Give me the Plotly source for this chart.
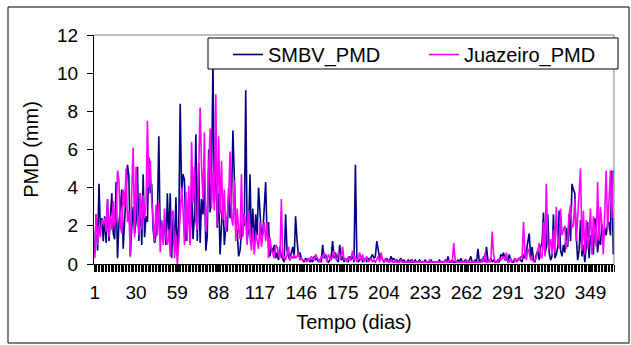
import plotly.graph_objects as go

days = list(range(1, 366))
tick_days = [1, 30, 59, 88, 117, 146, 175, 204, 233, 262, 291, 320, 349]
tick_labels = [str(d) for d in tick_days]

smbv_pmd = [
    0.5, 2.6, 0.7, 4.2, 1.8, 2.4, 1.2, 2.5, 1.1, 3.4,
    1.2, 2.6, 3.7, 1.6, 1.3, 4.3, 0.3, 2.1, 3.1, 3.9,
    0.8, 2.4, 4.1, 5.2, 4.6, 0.4, 1.9, 3.0, 1.6, 2.2,
    5.1, 1.2, 3.7, 1.0, 4.7, 1.4, 2.5, 2.2, 5.6, 3.7,
    4.2, 1.8, 1.1, 1.5, 2.6, 6.7, 1.3, 2.2, 1.8, 2.0,
    1.0, 3.7, 1.3, 3.7, 0.3, 2.4, 0.9, 3.5, 0.6, 2.0,
    8.4, 3.7, 4.7, 4.4, 1.2, 2.0, 3.5, 1.1, 4.0, 1.3,
    2.5, 6.8, 1.2, 5.3, 1.1, 3.4, 2.6, 4.5, 0.7, 1.5,
    6.0, 2.7, 4.4, 10.6, 3.2, 6.1, 1.9, 3.7, 0.5, 2.4,
    3.5, 1.0, 2.0, 1.7, 4.0, 2.4, 3.2, 7.0, 4.6, 2.1,
    1.7, 0.4, 0.7, 1.8, 2.6, 2.0, 9.1, 1.3, 1.8, 4.7,
    1.2, 2.9, 0.8, 2.6, 1.5, 4.0, 3.0, 1.5, 1.6, 2.8,
    4.3, 1.4, 2.2, 0.4, 0.9, 0.6, 1.0, 0.3, 0.6, 0.2,
    0.9, 0.4, 0.2, 0.1, 2.6, 0.7, 0.4, 0.2, 0.6, 0.9,
    0.3, 2.5, 1.3, 0.4, 0.6, 0.3, 0.2, 0.1, 0.3, 0.2,
    0.3, 0.1, 0.2, 0.1, 0.4, 0.2, 0.3, 0.1, 0.2, 0.1,
    1.0, 0.3, 0.5, 0.2, 0.1, 0.2, 0.4, 1.2, 0.3, 0.6,
    0.2, 0.1, 1.0, 0.2, 0.4, 0.1, 0.3, 0.2, 0.1, 0.4,
    0.2, 0.5, 0.1, 5.2, 0.3, 0.1, 0.2, 0.4, 0.1, 0.2,
    0.3, 0.1, 0.3, 0.2, 0.4, 0.5, 0.3, 0.4, 1.2, 0.6,
    0.3, 0.4, 0.2, 0.1, 0.2, 0.3, 0.1, 0.2, 0.4, 0.2,
    0.3, 0.1, 0.2, 0.1, 0.2, 0.3, 0.1, 0.2, 0.1, 0.1,
    0.2, 0.1, 0.2, 0.1, 0.1, 0.2, 0.1, 0.1, 0.2, 0.1,
    0.1, 0.1, 0.2, 0.1, 0.1, 0.1, 0.2, 0.1, 0.1, 0.1,
    0.1, 0.1, 0.2, 0.1, 0.1, 0.1, 0.2, 0.1, 0.4, 0.1,
    0.1, 0.2, 0.1, 0.1, 0.1, 0.2, 0.1, 0.3, 0.1, 0.1,
    0.2, 0.1, 0.1, 0.2, 0.4, 0.1, 0.1, 0.2, 0.1, 0.8,
    0.1, 0.2, 0.1, 0.4, 0.1, 0.9, 0.2, 0.1, 0.3, 0.1,
    0.2, 0.1, 0.1, 0.2, 0.1, 0.5, 0.4, 0.6, 0.2, 0.3,
    0.1, 0.5, 0.2, 0.1, 0.1, 0.3, 0.1, 0.2, 0.3, 0.2,
    0.1, 0.5, 0.3, 0.7, 1.1, 1.6, 0.3, 0.9, 0.2, 0.1,
    0.5, 0.7, 0.2, 0.9, 1.1, 2.7, 0.5, 0.9, 2.6, 0.6,
    0.2, 0.4, 2.6, 0.3, 0.5, 0.9, 2.8, 0.7, 0.4, 1.0,
    0.6, 1.9, 0.9, 2.6, 1.2, 4.2, 3.9, 3.7, 1.5, 0.2,
    0.7, 2.3, 0.4, 1.0, 0.1, 0.9, 2.2, 0.3, 1.5, 1.4,
    0.5, 2.4, 2.0, 0.6, 1.4, 1.0, 2.1, 1.3, 1.9, 1.5,
    2.1, 2.2, 1.5, 4.9, 0.5,
]

juazeiro_pmd = [
    0.3, 2.6, 1.0, 2.0, 1.4, 2.3, 2.1, 2.4, 1.7, 3.4,
    1.4, 2.5, 1.8, 3.3, 2.0, 2.3, 4.9, 4.4, 2.0, 1.6,
    3.9, 3.0, 5.0, 2.2, 2.8, 0.4, 3.8, 6.1, 1.4, 5.1,
    2.7, 1.5, 3.7, 1.8, 3.6, 2.4, 3.0, 7.5, 4.0, 5.4,
    3.3, 2.2, 1.2, 3.1, 1.5, 3.2, 0.6, 2.3, 1.0, 2.9,
    1.4, 1.0, 1.8, 0.4, 2.6, 2.8, 0.3, 1.5, 0.0, 1.1,
    2.6, 4.0, 2.9, 1.0, 3.8, 1.2, 4.1, 1.0, 6.4, 3.2,
    5.1, 2.2, 1.8, 5.9, 8.2, 5.0, 3.4, 6.9, 1.7, 2.7,
    5.3, 7.1, 2.9, 4.8, 2.8, 8.9, 2.0, 6.7, 2.6, 5.4,
    2.3, 3.9, 1.7, 2.7, 3.5, 5.9, 2.4, 2.0, 4.4, 1.2,
    2.9, 1.8, 1.3, 4.7, 1.4, 2.6, 2.2, 1.0, 2.8, 1.4,
    0.7, 1.9, 0.5, 1.6, 1.2, 0.8, 2.2, 0.9, 1.5, 2.2,
    1.2, 2.2, 0.3, 1.4, 0.8, 0.6, 0.3, 1.0, 0.9, 0.5,
    0.3, 3.4, 0.3, 0.4, 0.2, 0.5, 0.9, 0.2, 0.4, 0.3,
    0.5, 0.3, 0.4, 0.6, 0.2, 0.3, 0.2, 0.2, 0.2, 0.1,
    0.3, 0.2, 0.4, 0.3, 0.2, 0.5, 0.3, 0.2, 0.1, 0.4,
    0.3, 0.6, 0.4, 0.1, 0.5, 0.3, 0.2, 0.4, 0.7, 0.3,
    0.2, 0.6, 0.5, 0.3, 0.9, 0.2, 0.3, 0.1, 0.4, 0.2,
    0.3, 0.7, 0.2, 0.4, 0.1, 0.3, 0.6, 0.2, 0.5, 0.1,
    0.3, 0.4, 0.1, 0.2, 0.3, 0.1, 0.2, 0.1, 0.3, 0.4,
    0.1, 0.6, 0.2, 0.1, 0.3, 0.1, 0.2, 0.1, 0.2, 0.1,
    0.1, 0.2, 0.1, 0.1, 0.1, 0.2, 0.1, 0.1, 0.1, 0.1,
    0.1, 0.1, 0.1, 0.2, 0.1, 0.1, 0.1, 0.1, 0.1, 0.1,
    0.1, 0.1, 0.1, 0.1, 0.1, 0.2, 0.1, 0.1, 0.1, 0.1,
    0.1, 0.1, 0.1, 0.1, 0.1, 0.1, 0.2, 0.1, 0.1, 0.2,
    0.1, 0.1, 1.1, 0.2, 0.1, 0.1, 0.1, 0.1, 0.1, 0.1,
    0.1, 0.2, 0.1, 0.1, 0.1, 0.1, 0.1, 0.1, 0.1, 0.1,
    0.1, 0.1, 0.3, 0.1, 0.6, 0.1, 0.1, 0.2, 0.1, 1.7,
    0.5, 0.1, 0.1, 0.1, 0.3, 0.2, 0.3, 0.4, 0.2, 0.6,
    0.1, 0.1, 0.3, 0.1, 0.2, 0.3, 0.1, 0.3, 0.2, 0.4,
    0.3, 2.2, 0.5, 0.2, 0.8, 0.6, 0.2, 0.3, 0.1, 0.2,
    0.3, 0.7, 1.1, 0.4, 0.3, 2.2, 0.4, 4.2, 1.0, 0.8,
    1.3, 0.5, 1.8, 0.6, 3.0, 1.2, 0.8, 2.9, 1.5, 1.8,
    2.0, 0.8, 1.2, 2.6, 3.1, 1.9, 2.0, 3.4, 1.2, 2.4,
    3.5, 5.0, 0.7, 2.8, 0.5, 2.3, 0.8, 1.5, 2.9, 0.5,
    2.5, 1.8, 0.9, 4.3, 1.2, 3.0, 2.1, 0.5, 2.3, 4.9,
    1.8, 3.4, 4.9, 2.4, 4.9,
]

FONT = "Liberation Sans, Arial, sans-serif"

fig = go.Figure()
fig.add_trace(go.Scatter(x=days, y=smbv_pmd, mode="lines", name="SMBV_PMD",
                         line=dict(color="#000080", width=1.6)))
fig.add_trace(go.Scatter(x=days, y=juazeiro_pmd, mode="lines", name="Juazeiro_PMD",
                         line=dict(color="#FF00FF", width=1.6)))

L, R, T, B = 94, 17, 35, 81
W, H = 631, 345
pw, ph = W - L - R, H - T - B

def px_x(p):
    return (p - L) / pw

def px_y(p):
    return (H - B - p) / ph

fig.update_layout(
    template="none",
    width=W, height=H,
    margin=dict(l=L, r=R, t=T, b=B, pad=0, autoexpand=False),
    paper_bgcolor="white", plot_bgcolor="white",
    font=dict(family=FONT, size=19, color="black"),
    showlegend=True,
    legend=dict(orientation="h", x=px_x(228), y=px_y(35), xanchor="left", yanchor="top",
                bgcolor="rgba(0,0,0,0)", borderwidth=0, font=dict(size=20),
                entrywidth=151, itemwidth=30, tracegroupgap=0),
    xaxis=dict(range=[0.5, 365.5], tickmode="array", tickvals=tick_days, ticktext=tick_labels,
               ticks="outside", ticklen=7, tickcolor="black", tickwidth=1,
               minor=dict(ticks="outside", tick0=0.5, dtick=1, ticklen=7, tickcolor="black", tickwidth=1),
               showline=True, linecolor="black", linewidth=1, showgrid=False, zeroline=False,
               automargin=False, tickfont=dict(size=19), ticklabelstandoff=4,
               title=dict(text="Tempo (dias)", font=dict(size=20), standoff=13)),
    yaxis=dict(range=[0, 12], tickmode="linear", tick0=0, dtick=2,
               ticks="outside", ticklen=6, tickcolor="black", tickwidth=1,
               showline=True, linecolor="black", linewidth=1, showgrid=False, zeroline=False,
               automargin=False, tickfont=dict(size=19), ticklabelstandoff=5,
               title=dict(text="PMD (mm)", font=dict(size=20), standoff=13)),
    shapes=[
        dict(type="line", xref="paper", yref="paper", x0=0, x1=1, y0=1, y1=1,
             line=dict(color="#808080", width=1)),
        dict(type="line", xref="paper", yref="paper", x0=1, x1=1, y0=0, y1=1,
             line=dict(color="#808080", width=1)),
        dict(type="rect", xref="paper", yref="paper", x0=px_x(208), x1=px_x(618),
             y0=px_y(69), y1=px_y(38), fillcolor="white", line=dict(color="black", width=1),
             layer="above"),
        dict(type="rect", xref="paper", yref="paper", x0=px_x(8), x1=px_x(629),
             y0=px_y(343), y1=px_y(7), line=dict(color="black", width=1), layer="above"),
    ],
)

fig.write_html("out.html", config={"displayModeBar": False},
               post_script="document.body.style.margin='0';")
